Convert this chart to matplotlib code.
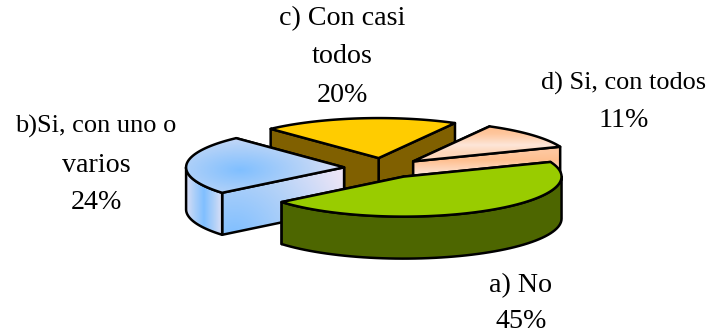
import numpy as np
import matplotlib
matplotlib.use('Agg')
import matplotlib.pyplot as plt
from matplotlib.colors import LinearSegmentedColormap
from matplotlib.patches import Polygon

plt.rcParams['font.family'] = ['Liberation Serif', 'DejaVu Serif']

# data
shares = [45, 24, 20, 11]
label_lines = [['a) No', '45%'],
               ['b)Si, con uno o', 'varios', '24%'],
               ['c) Con casi', 'todos', '20%'],
               ['d) Si, con todos', '11%']]
label_x = [521, 96, 342, 624]
label_base = [[292, 328], [133, 172, 209], [25, 63, 102], [90, 127]]
first_line_size = [20.2, 19, 20.2, 18.9]

# pie shape, in pixels
cx, cy = 383.5, 168
rx, ry = 158, 40
depth = 42
explode = 0.25
start_angle = 21.5  # first slice starts here and runs clockwise


def rim(c, t):
    t = np.radians(t)
    return np.column_stack([c[0] + rx * np.cos(t), c[1] - ry * np.sin(t)])


def down(pts):
    return pts + [0, depth]


blue_map = LinearSegmentedColormap.from_list('b', ['#80BFFF', '#B4D2F8', '#F0E6F6'])
peach_map = LinearSegmentedColormap.from_list('p', ['#FFBF90', '#FDE6D8'])
yy, xx = np.mgrid[0:333, 0:712] + 0.5


def blue_top():
    return np.clip(np.hypot((xx - 240) / 125, (yy - 170) / 50), 0, 1)


def blue_front():
    return np.clip(np.hypot(xx - 235, yy - 235) / 125, 0, 1)


def blue_wall():
    return np.clip(np.abs(xx - 204) / 22, 0, 1)


def peach_top():
    return np.interp(yy, [128, 134, 145, 152], [0, 0.2, 1, 0.6])


def peach_front():
    return np.interp(yy, [152, 160, 175], [0.2, 0, 1])


def face(ax, pts, color, z, shade=None, cmap=None):
    if shade is None:
        ax.add_patch(Polygon(pts, closed=True, fc=color, ec='black', lw=1.8, joinstyle='round', zorder=z))
        return
    edge = Polygon(pts, closed=True, fc='none', ec='black', lw=1.8, joinstyle='round', zorder=z + 0.5)
    ax.add_patch(edge)
    clip = Polygon(pts, closed=True, transform=ax.transData)
    im = ax.imshow(shade(), cmap=cmap, vmin=0, vmax=1, extent=(0, 712, 333, 0), aspect='auto', zorder=z)
    im.set_clip_path(clip)


fig = plt.figure(figsize=(7.12, 3.33), dpi=100)
ax = fig.add_axes([0, 0, 1, 1])

spans = np.array(shares) / sum(shares) * 360
ends = start_angle - np.cumsum(spans)
starts = ends + spans

# colours or gradients, per slice
styles = [
    dict(top='#99CC00', side='#4D6600'),
    dict(top=blue_top, front=blue_front, wall=blue_wall, cmap=blue_map),
    dict(top='#FFCC00', side='#806000'),
    dict(top=peach_top, front=peach_front, wall=peach_front, cmap=peach_map),
]

z = 1
for i in [2, 3, 1, 0]:  # back to front
    st = styles[i]
    a0, a1 = starts[i], ends[i]
    mid = np.radians((a0 + a1) / 2)
    c = (cx + explode * rx * np.cos(mid), cy - explode * ry * np.sin(mid))
    cmap = st.get('cmap')
    arc = rim(c, np.linspace(a0, a1, 80))
    apex = np.array([c])

    # cut faces, the one further back first
    sides = sorted([arc[0], arc[-1]], key=lambda p: p[1])
    for p in sides:
        quad = np.vstack([apex, [p], down(np.array([p])), down(apex)])
        if cmap:
            face(ax, quad, None, z, st['front'], cmap)
        else:
            face(ax, quad, st['side'], z)
        z += 1

    # outer wall, only the part facing the viewer
    k = np.floor((a0 - 180) / 360)
    lo, hi = max(a1, 180 + 360 * k), min(a0, 360 + 360 * k)
    if hi > lo:
        wall = rim(c, np.linspace(lo, hi, 60))
        poly = np.vstack([wall, down(wall)[::-1]])
        if cmap:
            face(ax, poly, None, z, st['wall'], cmap)
        else:
            face(ax, poly, st['side'], z)
        z += 1

    top = np.vstack([apex, arc])
    if cmap:
        face(ax, top, None, z, st['top'], cmap)
    else:
        face(ax, top, st['top'], z)
    z += 1

for lines, x, bases, size in zip(label_lines, label_x, label_base, first_line_size):
    for n, (line, b) in enumerate(zip(lines, bases)):
        ax.text(x, b, line, ha='center', va='baseline', fontsize=size if n == 0 else 20.2,
                color='black', zorder=50)

ax.set_xlim(0, 712)
ax.set_ylim(333, 0)
ax.axis('off')
fig.savefig('out.png', dpi=100)
